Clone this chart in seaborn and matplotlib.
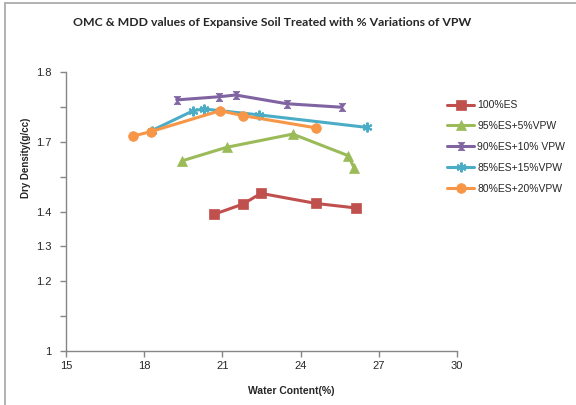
import matplotlib
matplotlib.use("Agg")
import matplotlib.pyplot as plt
import seaborn as sns
import pandas as pd
from matplotlib.path import Path
from matplotlib.lines import Line2D

# ---- data ----
series_names = ["100%ES", "95%ES+5%VPW", "90%ES+10% VPW", "85%ES+15%VPW", "80%ES+20%VPW"]
wc_100 = [20.68, 21.78, 22.48, 24.60, 26.14]
dd_100 = [1.392, 1.421, 1.452, 1.423, 1.410]
wc_95 = [19.44, 21.16, 23.70, 25.83, 26.06]
dd_95 = [1.545, 1.584, 1.622, 1.560, 1.524]
wc_90 = [19.25, 20.87, 21.51, 23.47, 25.58]
dd_90 = [1.720, 1.729, 1.734, 1.709, 1.699]
wc_85 = [18.29, 19.88, 20.29, 22.41, 26.56]
dd_85 = [1.632, 1.689, 1.694, 1.677, 1.641]
wc_80 = [17.56, 18.25, 20.91, 21.78, 24.58]
dd_80 = [1.616, 1.629, 1.689, 1.675, 1.640]
x_ticks = [15, 18, 21, 24, 27, 30]
y_ticks = [1.0, 1.1, 1.2, 1.3, 1.4, 1.5, 1.6, 1.7, 1.8]
y_tick_labels = ["1", "", "1.2", "1.3", "1.4", "", "1.7", "", "1.8"]

wcs = [wc_100, wc_95, wc_90, wc_85, wc_80]
dds = [dd_100, dd_95, dd_90, dd_85, dd_80]
rows = []
for name, xs, ys in zip(series_names, wcs, dds):
    for i, (x, y) in enumerate(zip(xs, ys)):
        rows.append({"series": name, "wc": x, "dd": y, "order": i})
df = pd.DataFrame(rows)

colors = ["#C0504D", "#9BBB59", "#8064A2", "#4BACC6", "#F79646"]
hourglass = Path([(-0.8, 1), (0.8, 1), (-0.8, -1), (0.8, -1), (-0.8, 1)],
                 [Path.MOVETO, Path.LINETO, Path.LINETO, Path.LINETO, Path.CLOSEPOLY])
markers = {series_names[0]: "s", series_names[1]: "^", series_names[2]: hourglass,
           series_names[3]: (6, 2, 0), series_names[4]: "o"}
msizes = [7, 7, 6, 7, 7]
mews = [0.5, 0.5, 0.5, 1.5, 0.5]

sns.set_style("white")
plt.rcParams["font.family"] = ["Liberation Sans", "DejaVu Sans"]

fig = plt.figure(figsize=(5.76, 4.05), dpi=100)
ax = fig.add_axes([66/576, 1-351/405, (457-66)/576, (351-72)/405])

for name, col, ms, mew in zip(series_names, colors, msizes, mews):
    sub = df[df.series == name]
    sns.lineplot(data=sub, x="wc", y="dd", ax=ax, color=col, lw=2.2,
                 marker=markers[name], markersize=ms, markeredgecolor=col,
                 markeredgewidth=mew, markerfacecolor=col,
                 estimator=None, sort=False, label=name, legend=False)

ax.set_xlim(15, 30)
ax.set_ylim(1.0, 1.8)
ax.set_xticks(x_ticks)
ax.set_xticklabels([str(t) for t in x_ticks], fontsize=8)
ax.set_yticks(y_ticks)
ax.set_yticklabels(y_tick_labels, fontsize=8)
for s in ["top", "right"]:
    ax.spines[s].set_visible(False)
for s in ["left", "bottom"]:
    ax.spines[s].set_color("#868686")
    ax.spines[s].set_linewidth(1)
ax.tick_params(axis="both", direction="out", length=4, color="#868686", width=1,
               bottom=True, left=True)
ax.tick_params(axis="y", pad=6.5)
ax.tick_params(axis="x", pad=3.5)

ax.set_xlabel("Water Content(%)", fontsize=7.5, fontweight="bold")
ax.set_ylabel("Dry Density(g/cc)", fontsize=7, fontweight="bold")
ax.xaxis.set_label_coords((291.7-66)/391, (351-386)/279)
ax.yaxis.set_label_coords((31-66)/391, (351-158)/279)

fig.text(272/576, 1-22.7/405, "OMC & MDD values of Expansive Soil Treated with % Variations of VPW",
         ha="center", va="center", fontsize=8.8, fontweight="bold", family=["Lato", "DejaVu Sans"])

handles = [Line2D([], [], color=c, lw=2.2, marker=markers[n], markersize=ms,
                  markeredgecolor=c, markerfacecolor=c, markeredgewidth=mew)
           for n, c, ms, mew in zip(series_names, colors, msizes, mews)]
fig.legend(handles, series_names, loc="upper left", bbox_to_anchor=(443/576, 1-96/405),
           frameon=False, fontsize=7.5, handlelength=2.6, handletextpad=0.3,
           labelspacing=1.05, borderaxespad=0)

# chart border
fig.add_artist(Line2D([5/576, 1], [1-3/405, 1-3/405], color="#A6A6A6", lw=1.2, transform=fig.transFigure))
fig.add_artist(Line2D([5/576, 5/576], [0, 1-3/405], color="#A6A6A6", lw=1.2, transform=fig.transFigure))

fig.savefig("out.png", dpi=100)
